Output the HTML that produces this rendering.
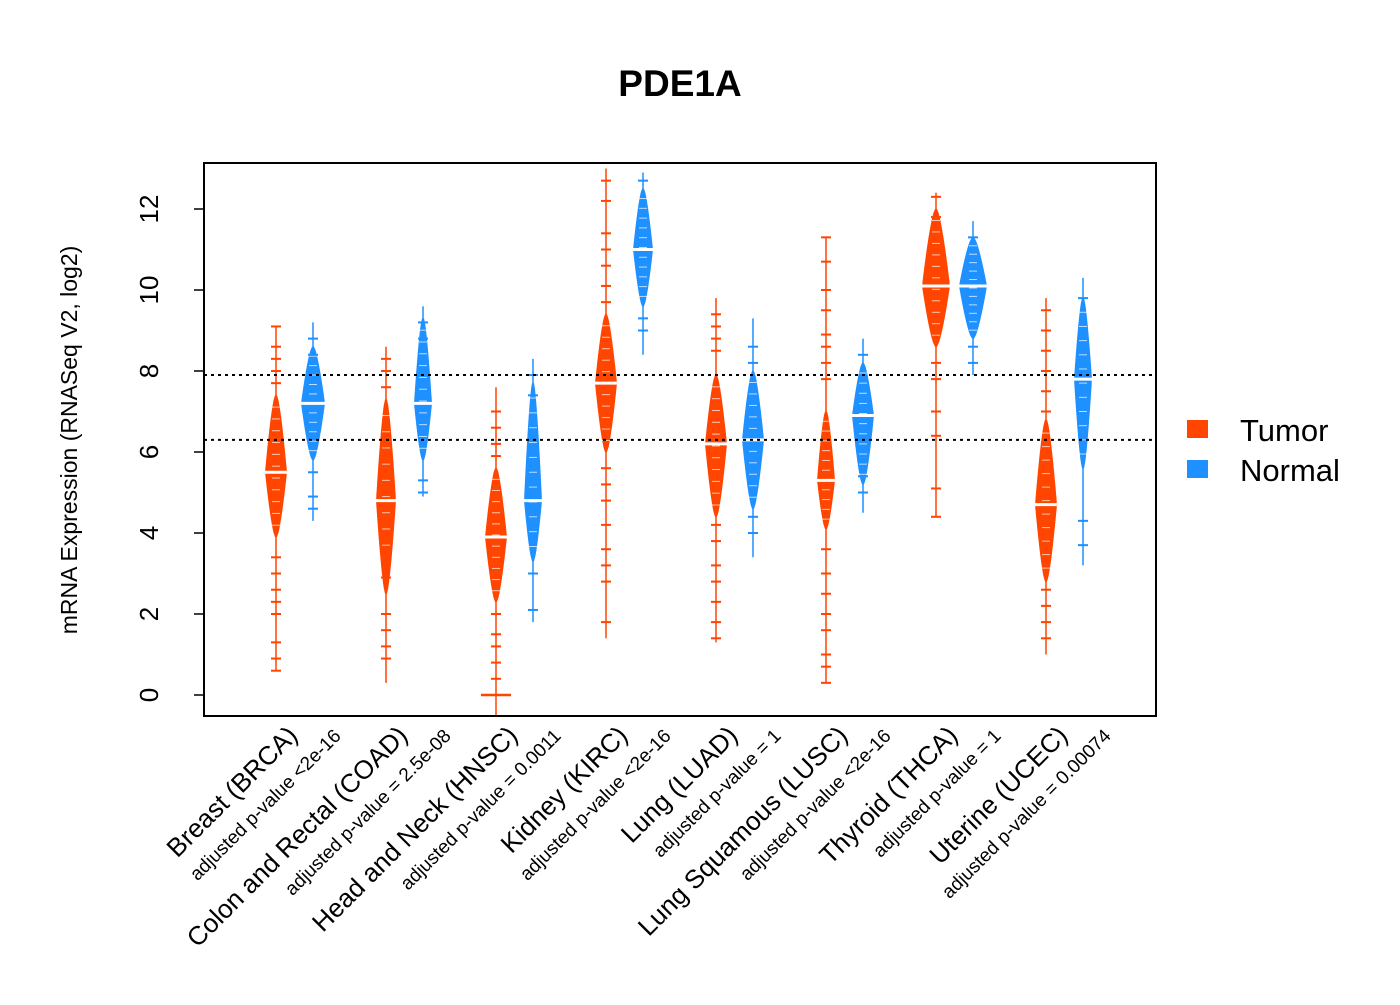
<!DOCTYPE html>
<html><head><meta charset="utf-8"><style>
html,body{margin:0;padding:0;background:#fff;}
svg text{font-family:"Liberation Sans",Arial,sans-serif;}
</style></head><body>
<svg id="chart" width="1400" height="1000" viewBox="0 0 1400 1000" xmlns="http://www.w3.org/2000/svg">
<rect width="1400" height="1000" fill="#fff"/>
<text x="680" y="96" text-anchor="middle" font-size="37" font-weight="bold">PDE1A</text>
<g id="plot"></g>
<rect x="204" y="163" width="952" height="553" fill="none" stroke="#000" stroke-width="2"/>
<text transform="translate(77,440) rotate(-90)" text-anchor="middle" font-size="23">mRNA Expression (RNASeq V2, log2)</text>
<g>
<rect x="1187" y="420" width="21" height="18" fill="#FF4500"/>
<text x="1240" y="441" font-size="31">Tumor</text>
<rect x="1187" y="460" width="21" height="18" fill="#1E90FF"/>
<text x="1240" y="481" font-size="31">Normal</text>
</g>
</svg>
<script>
const cancers = ["Breast (BRCA)","Colon and Rectal (COAD)","Head and Neck (HNSC)","Kidney (KIRC)","Lung (LUAD)","Lung Squamous (LUSC)","Thyroid (THCA)","Uterine (UCEC)"];
const pvalues = ["adjusted p-value <2e-16","adjusted p-value = 2.5e-08","adjusted p-value = 0.0011","adjusted p-value <2e-16","adjusted p-value = 1","adjusted p-value <2e-16","adjusted p-value = 1","adjusted p-value = 0.00074"];
const yTicks = [0,2,4,6,8,10,12];
const refLines = [7.9,6.3];
// tumor: line min, line max, violin low, violin high, median
const tumorMin = [0.6,0.3,-0.5,1.4,1.3,0.3,4.4,1.0];
const tumorMax = [9.1,8.6,7.6,13.0,9.8,11.3,12.4,9.8];
const tumorLow = [3.9,2.5,2.3,6.0,4.4,4.1,8.6,2.8];
const tumorHigh = [7.4,7.3,5.6,9.4,7.9,7.0,12.0,6.8];
const tumorMed = [5.5,4.8,3.9,7.7,6.2,5.3,10.1,4.7];
const tumorPts = [[9.1,8.6,8.3,8.0,7.7,3.4,3.0,2.6,2.3,2.0,1.3,0.9,0.6],[8.3,8.0,7.6,3.3,2.9,2.0,1.6,1.2,0.9],[7.0,6.6,6.2,5.9,2.0,1.5,1.2,0.8,0.4,0.0],[12.7,12.2,11.4,11.0,10.6,10.1,9.7,5.6,5.2,4.8,4.2,3.6,3.2,2.8,1.8],[9.4,9.1,8.8,8.5,4.2,3.8,3.2,2.8,2.3,1.8,1.4],[11.3,10.7,10.0,9.5,8.9,8.6,8.2,7.8,3.6,3.0,2.5,2.0,1.6,1.0,0.7,0.3],[12.3,11.8,8.2,7.8,7.0,6.4,5.1,4.4],[9.5,9.0,8.5,8.0,7.5,7.0,2.6,2.2,1.8,1.4]];
const tumorW = [10,9,10,10,10,8,13,10];
const normalMin = [4.3,4.9,1.8,8.4,3.4,4.5,7.9,3.2];
const normalMax = [9.2,9.6,8.3,12.9,9.3,8.8,11.7,10.3];
const normalLow = [5.8,5.8,3.3,9.6,4.6,5.2,8.8,5.6];
const normalHigh = [8.6,9.3,7.7,12.5,8.0,8.2,11.3,9.8];
const normalMed = [7.2,7.2,4.8,11.0,6.3,6.9,10.1,7.8];
const normalPts = [[8.8,8.4,5.5,4.9,4.6],[9.2,8.8,5.3,5.0],[7.9,7.4,3.0,2.1],[12.7,9.3,9.0],[8.6,8.2,4.4,4.0],[8.4,5.4,5.0],[11.3,8.6,8.2],[9.8,4.3,3.7]];
const normalW = [11,8,8,9,10,10,13,8];

const NS='http://www.w3.org/2000/svg';
const plot=document.getElementById('plot');
const svg=document.getElementById('chart');
const yS=v=>695-40.5*v;
const xT=i=>276+110*i, xN=i=>313+110*i;
function mk(tag,attrs,parent){const e=document.createElementNS(NS,tag);for(const k in attrs)e.setAttribute(k,attrs[k]);(parent||plot).appendChild(e);return e;}

yTicks.forEach(t=>{
  const l=mk('line',{x1:194,x2:204,y1:yS(t),y2:yS(t),stroke:'#000','stroke-width':1.5},svg);
  
  
  const tx=mk('text',{transform:`translate(158,${yS(t)}) rotate(-90)`,'text-anchor':'middle','font-size':26},svg);
  tx.textContent=t;
  
  
});

function bean(x,min,max,lo,hi,med,pts,w,color,name){
  const g=mk('g',{});
  
  
  mk('line',{x1:x,x2:x,y1:yS(min),y2:yS(max),stroke:color,'stroke-width':1.5},g);
  const n=30,left=[],right=[];
  const pk=med;
  for(let k=0;k<=n;k++){
    const v=lo+(hi-lo)*k/n;
    let f = v<pk ? (v-lo)/(pk-lo) : (hi-v)/(hi-pk);
    f=Math.max(0,Math.min(1,f));
    const hw=w*Math.pow(f,0.7)+1;
    right.push([x+hw,yS(v)]);left.unshift([x-hw,yS(v)]);
  }
  mk('polygon',{points:right.concat(left).map(p=>p.join(',')).join(' '),fill:color},g);
  for(let k=1;k<12;k++){
    const v=lo+(hi-lo)*k/12;
    mk('line',{x1:x-4,x2:x+4,y1:yS(v),y2:yS(v),stroke:'#fff','stroke-width':1,opacity:0.7},g);
  }
  pts.forEach(p=>{
    const pl=mk('line',{x1:x-5,x2:x+5,y1:yS(p),y2:yS(p),stroke:color,'stroke-width':2},g);
    
    
  });
  const m=mk('line',{x1:x-w-2,x2:x+w+2,y1:yS(med),y2:yS(med),stroke:'#fff','stroke-width':3},g);
  
  
}

cancers.forEach((c,i)=>{
  bean(xT(i),tumorMin[i],tumorMax[i],tumorLow[i],tumorHigh[i],tumorMed[i],tumorPts[i],tumorW[i],'#FF4500','tumor-bean');
  bean(xN(i),normalMin[i],normalMax[i],normalLow[i],normalHigh[i],normalMed[i],normalPts[i],normalW[i],'#1E90FF','normal-bean');
  const t1=mk('text',{transform:`translate(${xT(i)+23},737) rotate(-45)`,'text-anchor':'end','font-size':26},svg);
  t1.textContent=c;
  
  
  const t2=mk('text',{transform:`translate(${xN(i)+29},737) rotate(-45)`,'text-anchor':'end','font-size':19},svg);
  t2.textContent=pvalues[i];
  
  
});
const zb=mk('line',{x1:xT(2)-15,x2:xT(2)+15,y1:yS(0),y2:yS(0),stroke:'#FF4500','stroke-width':2.5});



refLines.forEach(r=>{
  const l=mk('line',{x1:204,x2:1156,y1:yS(r),y2:yS(r),stroke:'#000','stroke-width':2,'stroke-dasharray':'3,4'});
  
  
});
</script>
</body></html>
